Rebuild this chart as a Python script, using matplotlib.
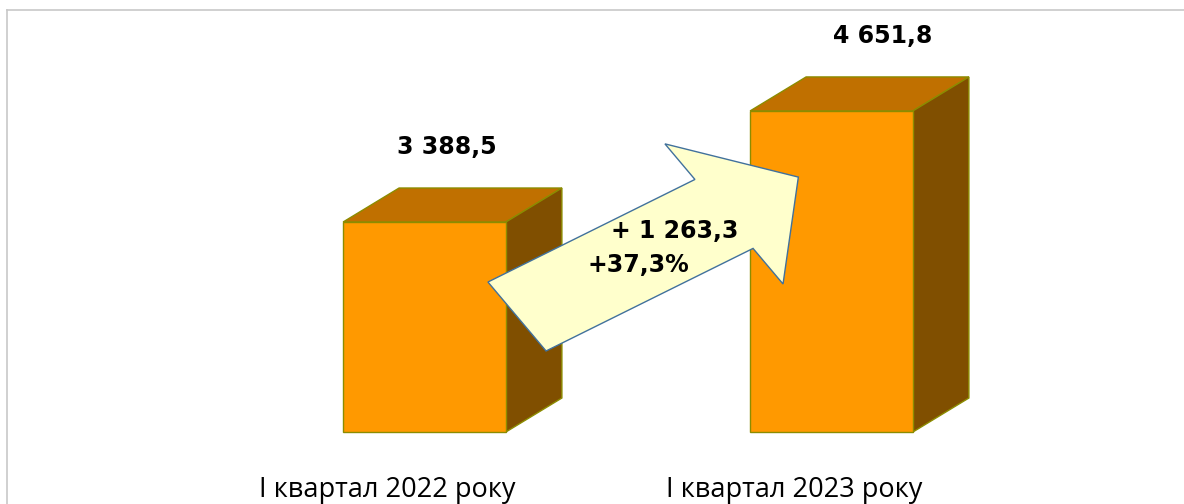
import numpy as np
import matplotlib
matplotlib.use('Agg')
import matplotlib.pyplot as plt
from matplotlib.patches import Polygon
from matplotlib.lines import Line2D
from matplotlib.transforms import IdentityTransform

categories = ['I квартал 2022 року', 'I квартал 2023 року']
values = [3388.5, 4651.8]

W, H = 1184, 504
fig = plt.figure(figsize=(W/100, H/100), dpi=100)
ax = fig.add_axes([0, 0, 1, 1])
ax.axis('off')

# scale: 407 px per category, 11.374 value units per px, floor at 1000
xpx = 1/407.
ypx = 11.374
base = 1000
ax.set_xlim(-424.5*xpx, (W-424.5)*xpx)
ax.set_ylim(base - 72*ypx, base + 432*ypx)

front = '#ff9900'
top = '#c07000'
side = '#804f00'
edge = '#8c8c00'
bw = 0.4
ddx, ddy = 56*xpx, 34*ypx

x = np.arange(len(values))
ax.bar(x, np.array(values) - base, bottom=base, width=bw, color=front,
       edgecolor=edge, linewidth=1, zorder=3)
for i, v in enumerate(values):
    l, r = i - bw/2, i + bw/2
    ax.add_patch(Polygon([[l, v], [l+ddx, v+ddy], [r+ddx, v+ddy], [r, v]],
                         closed=True, fc=top, ec=edge, lw=1, zorder=2))
    ax.add_patch(Polygon([[r, base], [r+ddx, base+ddy], [r+ddx, v+ddy], [r, v]],
                         closed=True, fc=side, ec=edge, lw=1, zorder=2))

def fmt(v):
    s = '{:,.1f}'.format(v)
    return s.replace(',', ' ').replace('.', ',')

label_dx = [22, 51]
for i, v in enumerate(values):
    ax.annotate(fmt(v), (i, v + ddy), xytext=(label_dx[i], 41),
                textcoords='offset pixels', ha='center', va='center',
                fontsize=17, fontweight='bold', color='black', zorder=6)

for i, c in enumerate(categories):
    ax.annotate(c, (i - 37*xpx, 0), xycoords=('data', 'figure pixels'),
                xytext=(0, 7), textcoords='offset pixels',
                ha='center', va='baseline', fontsize=19.5,
                family=['Open Sans', 'DejaVu Sans'], color='black')

# block arrow (sheared), in display pixels
cx, cy = 517, H - 316.5
ang = np.arctan2(0.444, 0.896)
u = np.array([np.cos(ang), np.sin(ang)])
n = np.array([np.sin(ang), -np.cos(ang)])
L, hs, sw, hw, k = 314, 231, 43.8, 89, 0.245
loc = [(0, -sw), (hs, -sw), (hs, -hw), (L, 0), (hs, hw), (hs, sw), (0, sw)]
pts = [np.array([cx, cy]) + (s + k*t)*u + t*n for s, t in loc]
fig.add_artist(Polygon(pts, closed=True, fc='#ffffcc', ec='#41719c', lw=1,
                       transform=IdentityTransform(), zorder=4))

diff = values[1] - values[0]
pct = diff / values[0] * 100
fig.text(675/W, 1 - 231/H, '+ ' + fmt(diff), ha='center', va='center',
         fontsize=17, fontweight='bold', zorder=7)
fig.text(638/W, 1 - 265/H, '+' + '{:.1f}'.format(pct).replace('.', ',') + '%',
         ha='center', va='center', fontsize=17, fontweight='bold', zorder=7)

# outer frame
fig.add_artist(Line2D([7, W], [H-10, H-10], color='#c8c8c8', lw=1.2,
                      transform=IdentityTransform()))
fig.add_artist(Line2D([7, 7], [0, H-10], color='#c8c8c8', lw=1.2,
                      transform=IdentityTransform()))

fig.savefig('out.png', dpi=100)
